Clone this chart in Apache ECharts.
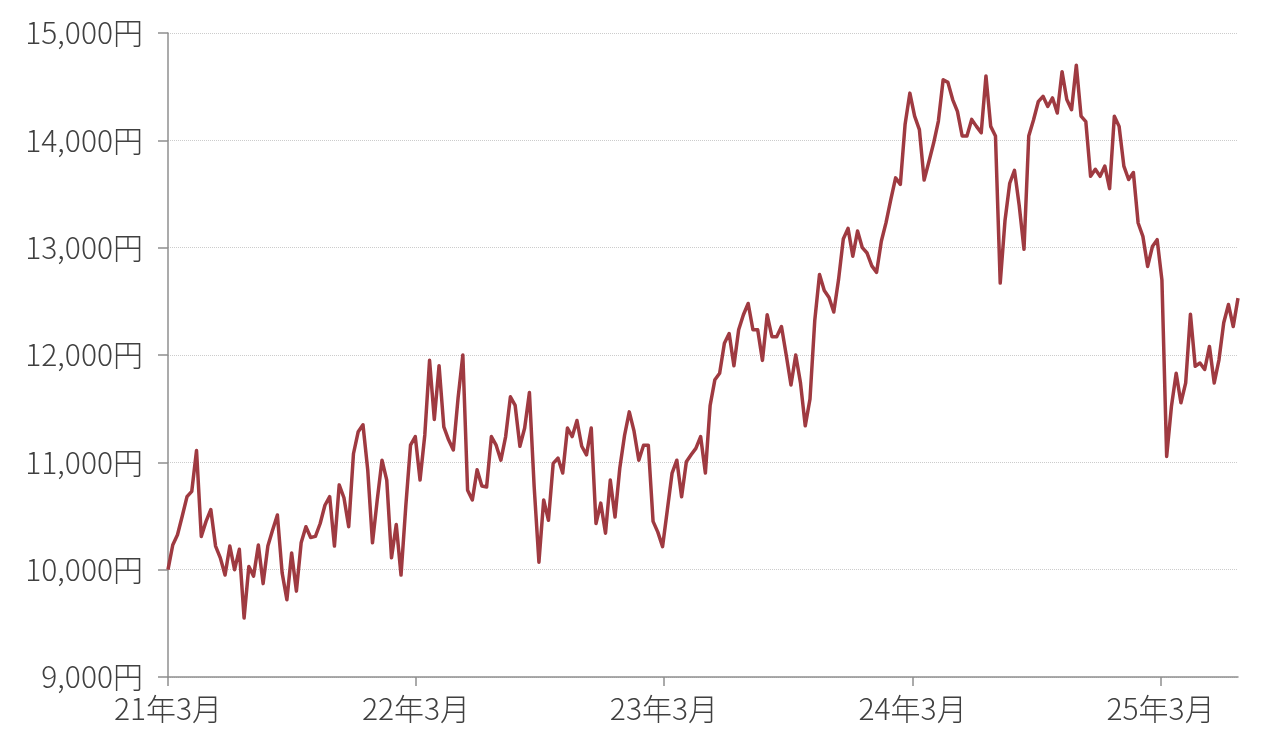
<!DOCTYPE html>
<html>
<head>
<meta charset="utf-8">
<script src="https://cdn.jsdelivr.net/npm/echarts@6/dist/echarts.min.js"></script>
<style>
html,body{margin:0;padding:0;background:#fff;}
#chart{width:1280px;height:748px;}
</style>
</head>
<body>
<div id="chart"></div>
<script>
// Weekly closing values (yen), first week = 2021-03-01
const startDate = [2021, 3, 1];
const stepDays = 7;
const values2021 = [10000,10230,10325,10500,10680,10730,11110,10310,10450,10560,10220,10110,9950,10220,10000,10190,9550,10030,9940,10230,9870,10220,10370,10510,9970,9720,10155,9800,10250,10400,10300,10310,10430,10600,10680,10220,10790,10670,10400,11080,11285,11350,10930,10250,10650,11020,10835,10110,10420,9950,10590,11160];
const values2022 = [11240,10835,11255,11950,11400,11900,11330,11210,11115,11600,12000,10740,10650,10930,10780,10770,11240,11160,11020,11240,11610,11530,11150,11320,11650,10770,10070,10650,10460,10990,11040,10900,11320,11240,11390,11150,11070,11320,10430,10620,10340,10835,10490,10945,11250,11470,11290,11020,11160,11160,10450,10350];
const values2023 = [10215,10555,10900,11020,10680,11005,11070,11130,11240,10900,11530,11770,11830,12110,12200,11900,12235,12375,12480,12235,12235,11950,12375,12170,12170,12265,12000,11720,12000,11740,11340,11590,12320,12750,12600,12535,12400,12700,13080,13180,12920,13155,13000,12950,12830,12770,13060,13235,13450,13650,13590,14150];
const values2024 = [14440,14225,14100,13630,13800,13975,14180,14565,14540,14380,14270,14040,14040,14195,14130,14070,14600,14130,14040,12670,13250,13600,13720,13390,12985,14040,14190,14360,14410,14315,14395,14255,14640,14380,14285,14700,14225,14175,13665,13730,13665,13760,13550,14225,14130,13760,13635,13700,13230,13105,12825,13010];
const values2025 = [13075,12700,11055,11520,11830,11555,11740,12380,11895,11925,11865,12080,11740,11955,12300,12470,12265,12530];
const tickLabels = ['21年3月','22年3月','23年3月','24年3月','25年3月'];
const yTicks = [9000,10000,11000,12000,13000,14000,15000];

const DAY = 86400000;
const allValues = [].concat(values2021, values2022, values2023, values2024, values2025);
const start = new Date(startDate[0], startDate[1]-1, startDate[2]);
// x = days elapsed since the first week
const seriesData = allValues.map(function(v, i){ return [i*stepDays, v]; });
const tickValues = tickLabels.map(function(s){
  const yy = parseInt(s, 10);
  const mm = parseInt(s.split('年')[1], 10);
  return Math.round((new Date(2000+yy, mm-1, 1).getTime() - start.getTime())/DAY);
});
function fmtYen(v){
  return String(v).replace(/\B(?=(\d{3})+(?!\d))/g, ',') + '円';
}
const FONT = '"Noto Sans CJK JP", "Noto Sans", sans-serif';
const chart = echarts.init(document.getElementById('chart'), null, {renderer:'canvas'});
chart.setOption({
  animation: false,
  backgroundColor: '#ffffff',
  grid: {left:168, right:42, top:33, bottom:71, containLabel:false},
  xAxis: {
    type: 'value',
    min: 0,
    max: seriesData[seriesData.length-1][0],
    axisLine: {show:true, onZero:false, lineStyle:{color:'#8f8f8f', width:1.5}},
    axisTick: {show:true, length:9, customValues: tickValues, lineStyle:{color:'#8f8f8f', width:1.5}},
    axisLabel: {
      customValues: tickValues,
      fontFamily: FONT, fontSize: 30, fontWeight: 300, color:'#404040', margin: 17,
      formatter: function(v){
        const idx = tickValues.indexOf(v);
        return idx >= 0 ? tickLabels[idx] : '';
      }
    },
    splitLine: {show:false}
  },
  yAxis: {
    type: 'value',
    min: yTicks[0], max: yTicks[yTicks.length-1], interval: 1000,
    axisLine: {show:true, lineStyle:{color:'#8f8f8f', width:1.5}},
    axisTick: {show:true, length:10, lineStyle:{color:'#8f8f8f', width:1.5}},
    axisLabel: {fontFamily: FONT, fontSize: 30, fontWeight: 300, color:'#404040', margin: 25, formatter: fmtYen},
    splitLine: {show:true, lineStyle:{color:'#cccccc', type:'dotted', width:1}}
  },
  series: [{
    type: 'line',
    data: seriesData,
    showSymbol: false,
    symbol: 'none',
    lineStyle: {color:'#9f3a41', width:3.5, join:'round'},
    itemStyle: {color:'#9f3a41'}
  }]
});
</script>
</body>
</html>
